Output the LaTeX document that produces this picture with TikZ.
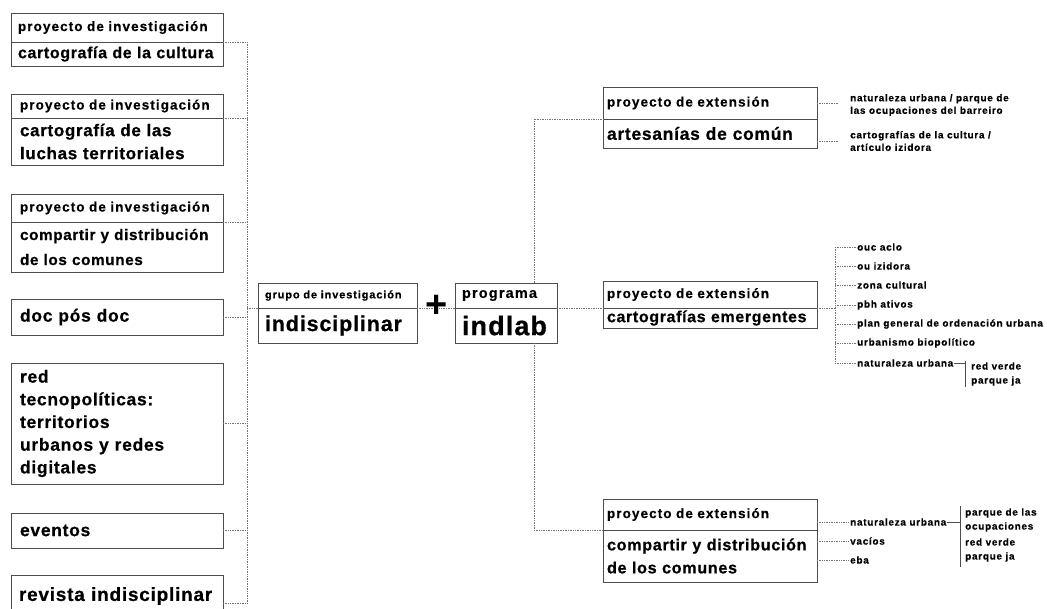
\documentclass[tikz,border=0pt]{standalone}
\usepackage{fontspec}
\setmainfont{Liberation Sans}
\newfontfamily\headfont{Liberation Sans}[LetterSpace=8, FakeBold=0.5]
\newfontfamily\bodyfont{Liberation Sans}[LetterSpace=4, FakeBold=0.6]
\newfontfamily\notefont{Liberation Sans}[LetterSpace=7, FakeBold=0.4]
\usetikzlibrary{positioning}
\newcommand{\sz}[2]{\fontsize{#1}{#2}\selectfont}

\tikzset{
  box/.style={draw=black!70, line width=0.8pt, outer sep=0pt, anchor=north west, inner ysep=0pt, align=left},
  head/.style={box, font=\headfont\bfseries\sz{#1}{16}},
  head/.default=13.5,
  body/.style={box, font=\bodyfont\bfseries\sz{#1}{23}},
  body/.default=17,
  lcol/.style={inner xsep=9pt, text width=194pt, minimum width=212pt},
  rcol/.style={inner xsep=4pt, text width=206pt, minimum width=214pt},
  note/.style={font=\notefont\bfseries\sz{10}{12.5}, align=left, anchor=west, inner sep=1pt},
  link/.style={densely dotted, draw=black!55, line width=0.7pt},
  fork/.style={draw=black!70, line width=0.6pt}
}

\begin{document}
\begin{tikzpicture}[x=1pt,y=-1pt]
    \useasboundingbox (0,0) rectangle (1047,608);
    % columna izquierda
    \node[head, lcol, inner xsep=7pt, text width=198pt, minimum height=29pt] (cultH) at (11,13) {proyecto de investigación};
    \node[body=16, lcol, inner xsep=7pt, text width=198pt, minimum height=24pt] (cultB) at (cultH.south west) {cartografía de la cultura};
    \node[head, lcol, minimum height=24pt] (luchH) at (11,94) {proyecto de investigación};
    \node[body, lcol, minimum height=47pt] (luchB) at (luchH.south west) {cartografía de las\\luchas territoriales};
    \node[head, lcol, minimum height=28pt] (compH) at (11,194) {proyecto de investigación};
    \node[body, lcol, minimum height=50pt, font=\bodyfont\bfseries\sz{15.3}{25}] (compB) at (compH.south west) {compartir y distribución\\de los comunes};
    \node[body=17.5, lcol, minimum height=36pt] (posdoc) at (11,299) {doc pós doc};
    \node[body, lcol, minimum height=121pt, font=\bodyfont\bfseries\sz{17.5}{22.7}] (redT) at (11,363) {red\\tecnopolíticas:\\territorios\\urbanos y redes\\digitales};
    \node[body=17.5, lcol, minimum height=35pt] (event) at (11,513) {eventos};
    \node[body=19, lcol, inner xsep=8pt, text width=196pt, minimum height=42pt] (revis) at (11,575) {revista indisciplinar};

    \coordinate (spineL) at (247,0);
    \draw[link] (cultB.north east) -- (cultB.north east -| spineL);
    \draw[link] (luchB.north east) -- (luchB.north east -| spineL);
    \draw[link] (compB.north east) -- (compB.north east -| spineL);
    \draw[link] (posdoc.east) -- (posdoc.east -| spineL);
    \draw[link] (redT.east) -- (redT.east -| spineL);
    \draw[link] (event.east) -- (event.east -| spineL);
    \draw[link] ([yshift=-28pt]revis.north east) -- ([yshift=-28pt]revis.north east -| spineL);
    \draw[link] (cultB.north east -| spineL) -- ([yshift=-28pt]revis.north east -| spineL);

    % centro
    \node[head=11, inner xsep=7pt, text width=145pt, minimum width=159pt, minimum height=25pt] (grupoH) at (258,283) {grupo de investigación};
    \node[body=21.5, inner xsep=7pt, text width=145pt, minimum width=159pt, minimum height=35pt] (grupoB) at (grupoH.south west) {indisciplinar};
    \node[head=14.5, inner xsep=7pt, text width=88pt, minimum width=102pt, minimum height=25pt] (progH) at (455,283) {programa};
    \node[body=27, inner xsep=7pt, text width=88pt, minimum width=102pt, minimum height=35pt] (progB) at (progH.south west) {indlab};
    \draw[link] (grupoB.north west -| spineL) -- (grupoB.north west);
    \draw[link] (grupoB.north east) -- (progB.north west);
    \node[font=\bfseries\sz{38}{38}, inner sep=0pt] (plus) at (437,306) {+};

    % columna derecha
    \node[head, rcol, minimum height=32pt] (artH) at (603,87) {proyecto de extensión};
    \node[body=17.5, rcol, minimum height=29pt] (artB) at (artH.south west) {artesanías de común};
    \node[head, rcol, minimum height=27pt] (emerH) at (603,281) {proyecto de extensión};
    \node[body=16, rcol, minimum height=20pt] (emerB) at (emerH.south west) {cartografías emergentes};
    \node[head, rcol, minimum height=31pt] (cdH) at (603,499) {proyecto de extensión};
    \node[body, rcol, minimum height=52pt, font=\bodyfont\bfseries\sz{16.2}{23}] (cdB) at (cdH.south west) {compartir y distribución\\de los comunes};

    \coordinate (spineR) at (534,0);
    \draw[link] (progB.north east) -- (emerB.north west);
    \draw[link] (progH.north -| spineR) |- (artB.north west);
    \draw[link] (progB.south -| spineR) |- (cdB.north west);

    % notas de artesanías
    \node[note] (art1) at (849,105) {naturaleza urbana / parque de\\las ocupaciones del barreiro};
    \node[note] (art2) at (849,141) {cartografías de la cultura /\\artículo izidora};
    \draw[link, shorten >=11pt] (artH.east) -- (artH.east -| art1.west);
    \draw[link, shorten >=11pt] (art2.west -| artB.east) -- (art2.west);

    % notas de cartografías emergentes
    \coordinate (spineE) at (835,0);
    \node[note] (em1) at (856,247) {ouc aclo};
    \node[note] (em2) at (856,266) {ou izidora};
    \node[note] (em3) at (856,285) {zona cultural};
    \node[note] (em4) at (856,305) {pbh ativos};
    \node[note] (em5) at (856,324) {plan general de ordenación urbana};
    \node[note] (em6) at (856,343) {urbanismo biopolítico};
    \node[note] (em7) at (856,363) {naturaleza urbana};
    \node[note] (em7a) at (970,366) {red verde};
    \node[note] (em7b) at (970,381) {parque ja};
    \draw[link] (emerB.north east) -- (emerB.north east -| spineE);
    \draw[link] (em1.west -| spineE) -- (em7.west -| spineE);
    \draw[link] (em1.west -| spineE) -- (em1.west);
    \draw[link] (em2.west -| spineE) -- (em2.west);
    \draw[link] (em3.west -| spineE) -- (em3.west);
    \draw[link] (em4.west -| spineE) -- (em4.west);
    \draw[link] (em5.west -| spineE) -- (em5.west);
    \draw[link] (em6.west -| spineE) -- (em6.west);
    \draw[link] (em7.west -| spineE) -- (em7.west);
    \coordinate (forkE) at (965,0);
    \draw[fork] (em7.east) -- (em7.east -| forkE);
    \draw[fork] (forkE |- em7a.north) -- (forkE |- em7b.south);

    % notas de compartir
    \node[note] (cd1) at (849,522) {naturaleza urbana};
    \node[note] (cd2) at (849,541) {vacíos};
    \node[note] (cd3) at (849,560) {eba};
    \node[note] (cd1a) at (964,513) {parque de las};
    \node[note] (cd1b) at (964,527) {ocupaciones};
    \node[note] (cd1c) at (964,542) {red verde};
    \node[note] (cd1d) at (964,557) {parque ja};
    \draw[link] (cd1.west -| cdB.east) -- (cd1.west);
    \draw[link] (cd2.west -| cdB.east) -- (cd2.west);
    \draw[link] (cd3.west -| cdB.east) -- (cd3.west);
    \coordinate (forkC) at (960,0);
    \draw[fork] (cd1.east) -- (cd1.east -| forkC);
    \draw[fork, shorten <=-1pt, shorten >=-4pt] (forkC |- cd1a.north) -- (forkC |- cd1d.south);
\end{tikzpicture}
\end{document}
